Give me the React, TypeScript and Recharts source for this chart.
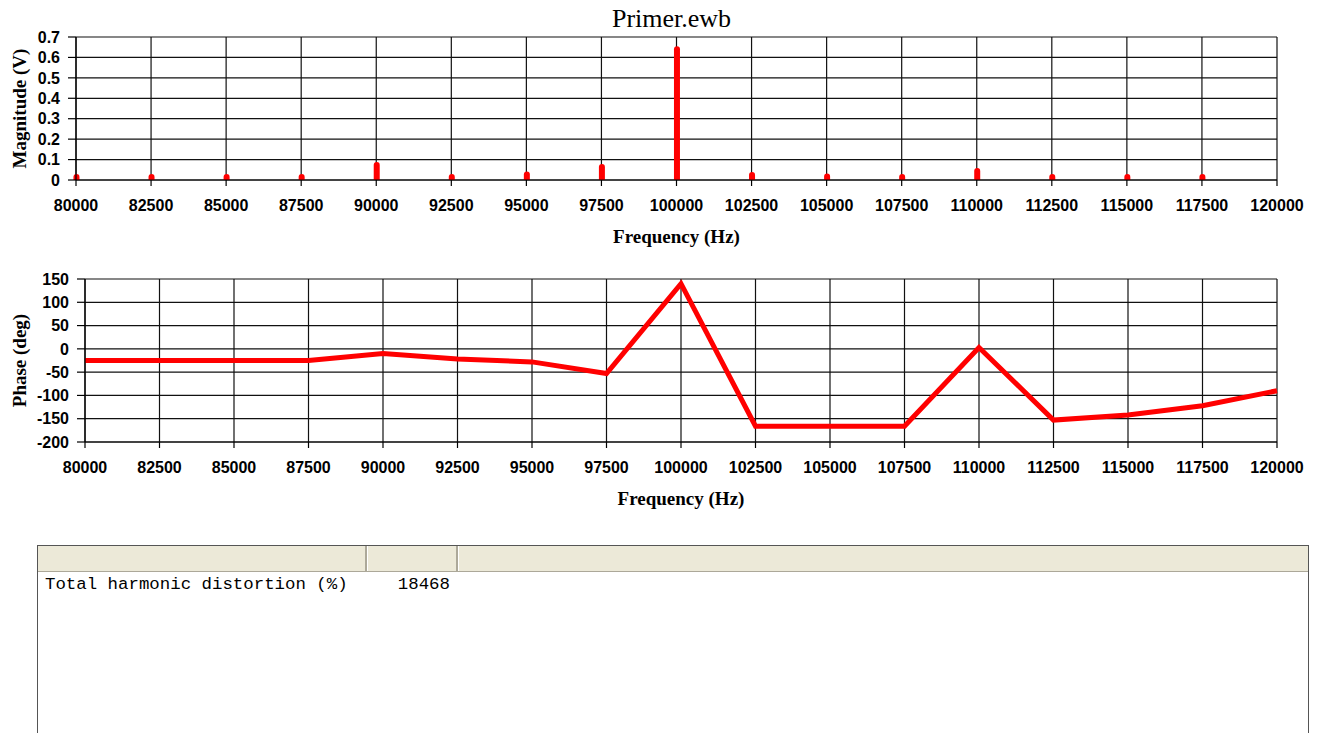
import { ComposedChart, Bar, Line, XAxis, YAxis, CartesianGrid, Label } from 'recharts';

const frequencies = [
  80000, 82500, 85000, 87500, 90000, 92500, 95000, 97500, 100000,
  102500, 105000, 107500, 110000, 112500, 115000, 117500, 120000,
];
const magnitudes = [
  0.02, 0.02, 0.02, 0.02, 0.088, 0.025, 0.042, 0.078, 0.655,
  0.039, 0.032, 0.026, 0.059, 0.016, 0.016, 0.015, 0,
];
const phases = [
  -25, -25, -25, -25, -10, -22, -28, -53, 140,
  -166, -166, -166, 3, -153, -142, -122, -90,
];
const magnitudeTicks = [0, 0.1, 0.2, 0.3, 0.4, 0.5, 0.6, 0.7];
const magnitudeTickLabels = ['0', '0.1', '0.2', '0.3', '0.4', '0.5', '0.6', '0.7'];
const phaseTicks = [-200, -150, -100, -50, 0, 50, 100, 150];

const chartTitle = 'Primer.ewb';
const thdLabel = 'Total harmonic distortion (%)';
const thdValue = '18468';

const magnitudeData = frequencies.map((f, i) => ({ freq: f, magnitude: magnitudes[i] }));
const phaseData = frequencies.map((f, i) => ({ freq: f, phase: phases[i] }));

const tickStyle = {
  fill: '#000',
  fontSize: 16,
  fontWeight: 700,
  fontFamily: '"Liberation Sans", Arial, sans-serif',
};
const titleFont = '"Liberation Serif", "Times New Roman", serif';

// thick red stem with rounded top, small values show as a dot on the axis
const Stem = (props: any) => {
  const { x, y, width, height, payload } = props;
  if (!payload || !payload.magnitude) return null;
  const base = y + height;
  const r = width / 2;
  const top = Math.min(y, base - 2 * r);
  const cx = x + r;
  const d = `M${cx - r},${base} L${cx - r},${top + r} A${r},${r} 0 0 1 ${cx + r},${top + r} L${cx + r},${base} Z`;
  return <path d={d} fill="#FF0000" />;
};

const xTitle = (props: any) => {
  const { viewBox } = props;
  return (
    <text
      x={viewBox.x + viewBox.width / 2}
      y={viewBox.y + 63}
      textAnchor="middle"
      fontFamily={titleFont}
      fontWeight={700}
      fontSize={19}
      fill="#000"
    >
      Frequency (Hz)
    </text>
  );
};

const yTitle = (text: string) => (props: any) => {
  const { viewBox } = props;
  const cx = 19;
  const cy = viewBox.y + viewBox.height / 2;
  return (
    <text
      x={cx}
      y={cy}
      transform={`rotate(-90 ${cx} ${cy})`}
      textAnchor="middle"
      dominantBaseline="central"
      fontFamily={titleFont}
      fontWeight={700}
      fontSize={19}
      fill="#000"
    >
      {text}
    </text>
  );
};

export default function App() {
  return (
    <div style={{ position: 'absolute', left: 0, top: 0, width: 1319, height: 733, background: '#fff', overflow: 'hidden' }}>
      <div
        style={{
          position: 'absolute',
          left: 0,
          top: 6,
          width: 1343,
          textAlign: 'center',
          fontFamily: titleFont,
          fontSize: 26,
          lineHeight: '26px',
          color: '#000',
        }}
      >
        {chartTitle}
      </div>

      <div style={{ position: 'absolute', left: 0, top: 0 }}>
        <ComposedChart
          width={1319}
          height={250}
          data={magnitudeData}
          margin={{ top: 37, right: 42, left: 0, bottom: 0 }}
        >
          <CartesianGrid stroke="#111" strokeWidth={1.2} />
          <XAxis
            dataKey="freq"
            type="number"
            domain={[80000, 120000]}
            ticks={frequencies}
            interval={0}
            height={70}
            tick={tickStyle}
            tickSize={6}
            tickMargin={14}
            axisLine={{ stroke: '#000', strokeWidth: 1.2 }}
            tickLine={{ stroke: '#000', strokeWidth: 1.2 }}
          >
            <Label content={xTitle} />
          </XAxis>
          <YAxis
            type="number"
            domain={[0, 0.7]}
            ticks={magnitudeTicks}
            interval={0}
            width={76}
            tick={tickStyle}
            tickSize={8}
            tickMargin={8}
            tickFormatter={(v: number) => magnitudeTickLabels[magnitudeTicks.indexOf(v)] ?? String(v)}
            axisLine={{ stroke: '#000', strokeWidth: 1.2 }}
            tickLine={{ stroke: '#000', strokeWidth: 1.2 }}
          >
            <Label content={yTitle('Magnitude (V)')} />
          </YAxis>
          <Bar dataKey="magnitude" barSize={6} shape={Stem} isAnimationActive={false} />
        </ComposedChart>
      </div>

      <div style={{ position: 'absolute', left: 0, top: 260 }}>
        <ComposedChart
          width={1319}
          height={250}
          data={phaseData}
          margin={{ top: 19, right: 42, left: 0, bottom: 0 }}
        >
          <CartesianGrid stroke="#111" strokeWidth={1.2} />
          <XAxis
            dataKey="freq"
            type="number"
            domain={[80000, 120000]}
            ticks={frequencies}
            interval={0}
            height={68}
            tick={tickStyle}
            tickSize={6}
            tickMargin={14}
            axisLine={{ stroke: '#000', strokeWidth: 1.2 }}
            tickLine={{ stroke: '#000', strokeWidth: 1.2 }}
          >
            <Label content={xTitle} />
          </XAxis>
          <YAxis
            type="number"
            domain={[-200, 150]}
            ticks={phaseTicks}
            interval={0}
            width={85}
            tick={tickStyle}
            tickSize={8}
            tickMargin={8}
            axisLine={{ stroke: '#000', strokeWidth: 1.2 }}
            tickLine={{ stroke: '#000', strokeWidth: 1.2 }}
          >
            <Label content={yTitle('Phase (deg)')} />
          </YAxis>
          <Line
            type="linear"
            dataKey="phase"
            stroke="#FF0000"
            strokeWidth={5}
            dot={false}
            activeDot={false}
            isAnimationActive={false}
          />
        </ComposedChart>
      </div>

      <div
        style={{
          position: 'absolute',
          left: 37,
          top: 545,
          width: 1272,
          height: 220,
          border: '1px solid #555',
          background: '#fff',
          boxSizing: 'border-box',
        }}
      >
        <div style={{ display: 'flex', height: 25, background: '#ECE9D8', borderBottom: '1px solid #ACA899' }}>
          <div style={{ width: 327, borderRight: '2px solid #ACA899' }} />
          <div style={{ width: 89, borderRight: '2px solid #ACA899', boxShadow: 'inset 1px 0 0 #fff' }} />
          <div style={{ flex: 1, boxShadow: 'inset 1px 0 0 #fff' }} />
        </div>
        <div
          style={{
            display: 'flex',
            fontFamily: '"Courier New", "Liberation Mono", monospace',
            fontSize: 17.4,
            lineHeight: '22px',
            color: '#000',
            paddingTop: 2,
          }}
        >
          <div style={{ width: 329, paddingLeft: 7, boxSizing: 'border-box', whiteSpace: 'pre' }}>{thdLabel}</div>
          <div style={{ width: 83, textAlign: 'right', whiteSpace: 'pre' }}>{thdValue}</div>
        </div>
      </div>
    </div>
  );
}
